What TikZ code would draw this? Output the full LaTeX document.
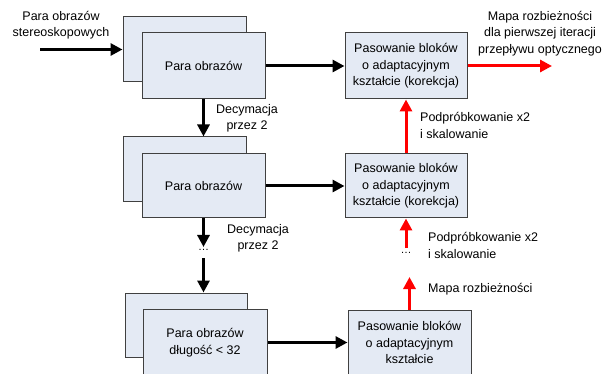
\documentclass[tikz,border=0pt]{standalone}
\usepackage{fontspec}
\setmainfont{Liberation Sans}
\usetikzlibrary{arrows.meta}
\definecolor{boxfill}{HTML}{E4EAF4}
\definecolor{boxline}{HTML}{404040}
\begin{document}
\begin{tikzpicture}[x=1pt,y=-1pt,
  every node/.style={font=\fontsize{12.5}{16.5}\selectfont, inner sep=0pt},
  box/.style={draw=boxline, fill=boxfill, line width=1pt, align=center},
  blk/.style={line width=3pt, black, -{Triangle[length=12pt,width=12pt]}},
  redarr/.style={line width=3pt, red, -{Triangle[length=12pt,width=12pt]}},
  lbl/.style={align=center},
  lbll/.style={align=left, anchor=west},
  dots/.style={font=\fontsize{11}{11}\selectfont}
]
\useasboundingbox (0,0) rectangle (605,374);
\begin{scope}
\clip (0,0) rectangle (605,374);
% left column
\node[box, minimum width=123pt, minimum height=65pt] (b1) at (184.5,49.5) {};
\node[box, minimum width=123pt, minimum height=66pt] (f1) at (203.5,66) {Para obrazów};
\node[box, minimum width=123pt, minimum height=65pt] (b2) at (184.5,169.5) {};
\node[box, minimum width=123pt, minimum height=64pt] (f2) at (203.5,186) {Para obrazów};
\node[box, minimum width=122pt, minimum height=64pt] (b3) at (186,325) {};
\node[box, minimum width=124pt, minimum height=66pt] (f3) at (205,342.5) {Para obrazów\\długość < 32};
% right column
\node[box, minimum width=122pt, minimum height=66pt] (r1) at (406,66) {Pasowanie bloków\\o adaptacyjnym\\kształcie (korekcja)};
\node[box, minimum width=122pt, minimum height=64pt] (r2) at (406,186) {Pasowanie bloków\\o adaptacyjnym\\kształcie (korekcja)};
\node[box, minimum width=123pt, minimum height=65pt] (r3) at (409.5,342.5) {Pasowanie bloków\\o adaptacyjnym\\kształcie};
\end{scope}
% labels
\node[lbl] (tin) at (61,25) {Para obrazów\\stereoskopowych};
\node[lbl] (tdec1) at (247,118.5) {Decymacja\\przez 2};
\node[lbl] (tdec2) at (258,238.5) {Decymacja\\przez 2};
\node[lbl] (tout) at (540,33.5) {Mapa rozbieżności\\dla pierwszej iteracji\\przepływu optycznego};
\node[lbll] (tup1) at (420,125.5) {Podpróbkowanie x2\\i skalowanie};
\node[lbll] (tup2) at (428,245.5) {Podpróbkowanie x2\\i skalowanie};
\node[lbll] (tmap) at (428,289) {Mapa rozbieżności};
% coordinates
\coordinate (in) at (40,49.5);
\coordinate (out) at (552,66);
\coordinate (d1) at (203.5,247);
\coordinate (d2) at (203.5,258);
\coordinate (u1) at (406,248);
\coordinate (u2) at (409.5,277);
\node[dots] (dl) at (203.5,250) {\ldots};
\node[dots] (dr) at (406,253) {\ldots};
% black arrows
\draw[blk] (in) -- (b1.west);
\draw[blk] (f1.east) -- (r1.west);
\draw[blk] (f2.east) -- (r2.west);
\draw[blk] (f3.east) -- (r3.west);
\draw[blk] (f1.south) -- (f1.south |- b2.north);
\draw[blk] (f2.south) -- (d1);
\draw[blk] (d2) -- (d2 |- b3.north);
% red arrows
\draw[redarr] (r1.east) -- (out);
\draw[redarr] (r2.north) -- (r1.south);
\draw[redarr] (u1) -- (r2.south);
\draw[redarr] (r3.north) -- (u2);
\end{tikzpicture}
\end{document}
